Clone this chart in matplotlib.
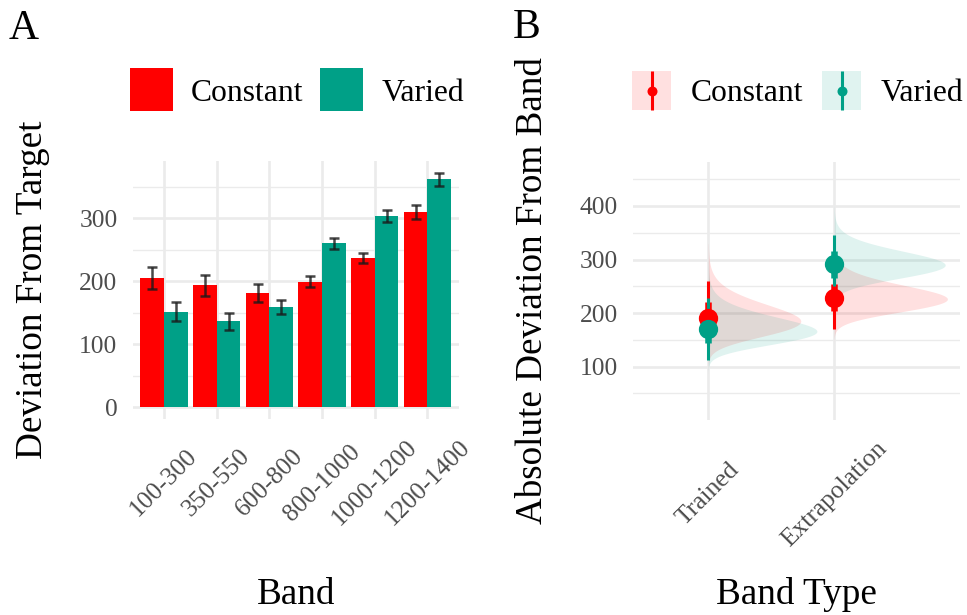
import numpy as np
import matplotlib
matplotlib.use("Agg")
import matplotlib.pyplot as plt
from matplotlib.patches import Rectangle
from matplotlib.lines import Line2D
from matplotlib.transforms import blended_transform_factory

plt.rcParams['font.family'] = ['Liberation Serif', 'DejaVu Serif']

# ---- Panel A data: mean deviation by band with standard-error bars ----
bands = ["100-300", "350-550", "600-800", "800-1000", "1000-1200", "1200-1400"]
constant_mean = [205, 194, 181, 199, 237, 310]
constant_lo = [187, 177, 167, 190, 228, 299]
constant_hi = [223, 209, 195, 208, 245, 321]
varied_mean = [151, 137, 159, 260, 303, 362]
varied_lo = [136, 123, 148, 251, 293, 351]
varied_hi = [167, 150, 170, 269, 313, 372]

# ---- Panel B data: posterior summaries by band type ----
band_types = ["Trained", "Extrapolation"]
const_median = [190, 229]
const_q66 = [(164, 221), (204, 254)]
const_q95 = [(139, 260), (171, 300)]
const_sdlog = [0.162, 0.109]
const_range = [(70, 330), (130, 300)]
var_median = [170, 292]
var_q66 = [(144, 198), (265, 315)]
var_q95 = [(113, 229), (250, 346)]
var_sdlog = [0.154, 0.087]
var_range = [(85, 300), (200, 400)]

groups = ["Constant", "Varied"]
RED = "#FF0000"
TEAL = "#00A087"
GRID = "#EBEBEB"
TICK = "#4D4D4D"

W, H = 967, 615
fig = plt.figure(figsize=(W / 100, H / 100), dpi=100)


def fx(x):
    return x / W


def fy(y):
    return 1 - y / H


def panel(l, t, r, b):
    return fig.add_axes([fx(l), fy(b), (r - l) / W, (b - t) / H])


def style_axes(ax, ymajor, yminor, xgrid):
    for s in ax.spines.values():
        s.set_visible(False)
    for v in yminor:
        ax.axhline(v, color=GRID, lw=1.0, zorder=0)
    for v in ymajor:
        ax.axhline(v, color=GRID, lw=1.9, zorder=0)
    for v in xgrid:
        ax.axvline(v, color=GRID, lw=1.9, zorder=0)
    ax.set_yticks(ymajor)
    ax.set_yticklabels([str(v) for v in ymajor])
    ax.set_xticks([])
    ax.tick_params(axis='y', length=0, pad=10.8, labelsize=18.4, labelcolor=TICK)


# ================= Panel A =================
axA = panel(132.5, 161, 459, 419)
xA = np.arange(len(bands))
axA.set_xlim(-0.6, len(bands) - 0.4)
axA.set_ylim(-19, 390.5)
style_axes(axA, [0, 100, 200, 300], [50, 150, 250, 350], xA)

bw = 0.45
axA.bar(xA - bw / 2, constant_mean, width=bw, color=RED, zorder=2)
axA.bar(xA + bw / 2, varied_mean, width=bw, color=TEAL, zorder=2)
ecol = (0.1, 0.1, 0.1)
for xs, lo, hi in [(xA - bw / 2, constant_lo, constant_hi), (xA + bw / 2, varied_lo, varied_hi)]:
    axA.vlines(xs, lo, hi, color=ecol, alpha=0.8, lw=1.8, zorder=3)
    axA.hlines(lo, xs - 0.095, xs + 0.095, color=ecol, alpha=0.8, lw=1.8, zorder=3)
    axA.hlines(hi, xs - 0.095, xs + 0.095, color=ecol, alpha=0.8, lw=1.8, zorder=3)

trA = blended_transform_factory(axA.transData, fig.transFigure)
for x, lab in zip(xA, bands):
    axA.text(x, fy(483), lab, transform=trA, rotation=45, rotation_mode='anchor',
             ha='center', va='center', fontsize=18.4, color=TICK)

# ================= Panel B =================
axB = panel(632.7, 162, 960, 420)
xB = np.arange(1, len(band_types) + 1)
axB.set_xlim(0.4, 3.0)
axB.set_ylim(0.4, 482)
style_axes(axB, [100, 200, 300, 400], [50, 150, 250, 350, 450], xB)


def lognorm_pdf(y, med, sdlog):
    return np.exp(-(np.log(y / med)) ** 2 / (2 * sdlog ** 2)) / (y * sdlog * np.sqrt(2 * np.pi))


slabs = []
for med_list, sd_list, rng_list, col in [(const_median, const_sdlog, const_range, RED),
                                         (var_median, var_sdlog, var_range, TEAL)]:
    for i, x in enumerate(xB):
        y = np.linspace(rng_list[i][0], rng_list[i][1], 400)
        d = lognorm_pdf(y, med_list[i], sd_list[i])
        slabs.append((x, y, d, col))
dmax = max(s[2].max() for s in slabs)
for x, y, d, col in slabs:
    axB.fill_betweenx(y, x, x + 0.9 * d / dmax, color=col, alpha=0.12, lw=0, zorder=1)

for med, q66, q95, col in [(const_median, const_q66, const_q95, RED),
                           (var_median, var_q66, var_q95, TEAL)]:
    for i, x in enumerate(xB):
        axB.plot([x, x], q95[i], color=col, lw=2.2, solid_capstyle='butt', zorder=3)
        axB.plot([x, x], q66[i], color=col, lw=4.7, solid_capstyle='butt', zorder=3)
        axB.plot([x], [med[i]], 'o', color=col, ms=13.9, mew=0, zorder=4)

trB = blended_transform_factory(axB.transData, fig.transFigure)
for x, lab in zip(xB, band_types):
    axB.text(x, fy(494), lab, transform=trB, rotation=45, rotation_mode='anchor',
             ha='center', va='center', fontsize=18.4, color=TICK)

# ================= Titles, tags and legends =================
fig.text(fx(9), fy(39), "A", fontsize=30, ha='left', va='baseline')
fig.text(fx(513), fy(38), "B", fontsize=30, ha='left', va='baseline')

fig.text(fx(296), fy(604), "Band", fontsize=26.7, ha='center', va='baseline')
fig.text(fx(796.5), fy(604), "Band Type", fontsize=26.7, ha='center', va='baseline')
fig.text(fx(42), fy(290), "Deviation From Target", fontsize=26.7, rotation=90,
         rotation_mode='anchor', ha='center', va='baseline')
fig.text(fx(542), fy(291), "Absolute Deviation From Band", fontsize=26.7, rotation=90,
         rotation_mode='anchor', ha='center', va='baseline')

# Panel A legend: filled squares
for (l, tx), col, name in zip([(130, 190.7), (320, 381.7)], [RED, TEAL], groups):
    fig.add_artist(Rectangle((fx(l), fy(111)), 43 / W, 43 / H, transform=fig.transFigure,
                             facecolor=col, edgecolor='none'))
    fig.text(fx(tx), fy(100.7), name, fontsize=22.8, ha='left', va='baseline')

# Panel B legend: pale slab box with point-interval glyph
for (l, tx), col, name in zip([(632, 690.7), (822, 881)], [RED, TEAL], groups):
    fig.add_artist(Rectangle((fx(l), fy(110)), 39 / W, 39 / H, transform=fig.transFigure,
                             facecolor=col, alpha=0.12, edgecolor='none'))
    cx = l + 19.5
    fig.add_artist(Line2D([fx(cx), fx(cx)], [fy(110), fy(71)], transform=fig.transFigure,
                          color=col, lw=2.2, solid_capstyle='butt'))
    fig.add_artist(Line2D([fx(cx)], [fy(90.5)], transform=fig.transFigure, marker='o',
                          color=col, ms=7.2, mew=0, linestyle='none'))
    fig.text(fx(tx), fy(101), name, fontsize=22.8, ha='left', va='baseline')

fig.savefig("out.png", dpi=100, facecolor="white")
